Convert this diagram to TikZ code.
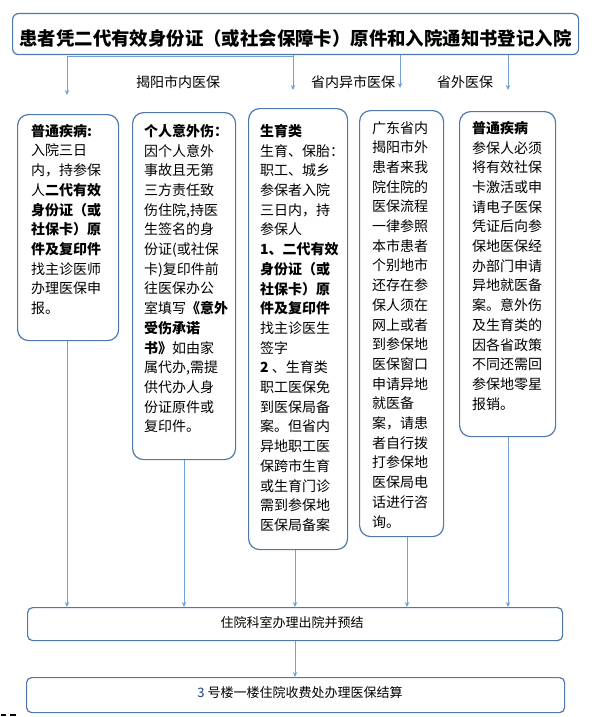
\documentclass[tikz,border=0pt]{standalone}
\usepackage{fontspec}
\setmainfont{Noto Sans CJK SC}
\usetikzlibrary{arrows.meta}
\definecolor{boxblue}{HTML}{4F79AE}
\definecolor{arrowblue}{HTML}{72A0D6}
\definecolor{numblue}{HTML}{1F3A78}
\begin{document}
\begin{tikzpicture}[x=1pt,y=-1pt,
  frame/.style={draw=boxblue, line width=1.2pt, rounded corners=#1, inner sep=0pt, anchor=north west},
  frame/.default=11pt,
  txt/.style={inner sep=0pt, anchor=north west, align=left, font=\fontsize{14}{19.7}\selectfont},
  conn/.style={draw=arrowblue, line width=0.9pt, -{Stealth[length=5pt,width=4.5pt]}},
  lbl/.style={inner sep=0pt, font=\fontsize{14}{16}\selectfont}
]
\fill[white] (0,0) rectangle (594,717);
\useasboundingbox (0,0) rectangle (594,717);

% title
\node[frame=6pt, minimum width=566pt, minimum height=41pt] (title) at (12,13) {};
\node[inner sep=0pt, font=\fontsize{18.4}{20}\selectfont\bfseries] (ttitle) at (295.5,39) {患者凭二代有效身份证（或社会保障卡）原件和入院通知书登记入院};

% labels
\node[lbl] (l1) at (178,82) {揭阳市内医保};
\node[lbl] (l2) at (353,82) {省内异市医保};
\node[lbl] (l3) at (465,82) {省外医保};

% boxes
\node[frame, minimum width=101pt, minimum height=226pt] (b1) at (17,114) {};
\node[frame, minimum width=103pt, minimum height=347pt] (b2) at (132,112) {};
\node[frame, minimum width=99pt, minimum height=441pt] (b3) at (248,108) {};
\node[frame, minimum width=84pt, minimum height=426pt] (b4) at (359,110) {};
\node[frame, minimum width=96pt, minimum height=325pt] (b5) at (459,111) {};

\node[txt] (t1) at (31,124) {\textbf{普通疾病:}\\
入院三日\\
内，持参保\\
人\textbf{二代有效}\\
\textbf{身份证（或}\\
\textbf{社保卡）原}\\
\textbf{件及复印件}\\
找主诊医师\\
办理医保申\\
报。};

\node[txt] (t2) at (144,124) {\textbf{个人意外伤：}\\
因个人意外\\
事故且无第\\
三方责任致\\
伤住院,持医\\
生签名的身\\
份证(或社保\\
卡)复印件前\\
往医保办公\\
室填写\textbf{《意外}\\
\textbf{受伤承诺}\\
\textbf{书》}如由家\\
属代办,需提\\
供代办人身\\
份证原件或\\
复印件。};

\node[txt] (t3) at (260,124) {\textbf{生育类}\\
生育、保胎：\\
职工、城乡\\
参保者入院\\
三日内，持\\
参保人\\
\textbf{1、二代有效}\\
\textbf{身份证（或}\\
\textbf{社保卡）原}\\
\textbf{件及复印件}\\
找主诊医生\\
签字\\
\textbf{2} 、生育类\\
职工医保免\\
到医保局备\\
案。但省内\\
异地职工医\\
保跨市生育\\
或生育门诊\\
需到参保地\\
医保局备案};

\node[txt] (t4) at (372,121) {广东省内\\
揭阳市外\\
患者来我\\
院住院的\\
医保流程\\
一律参照\\
本市患者\\
个别地市\\
还存在参\\
保人须在\\
网上或者\\
到参保地\\
医保窗口\\
申请异地\\
就医备\\
案，请患\\
者自行拨\\
打参保地\\
医保局电\\
话进行咨\\
询。};

\node[txt] (t5) at (472,121) {\textbf{普通疾病}\\
参保人必须\\
将有效社保\\
卡激活或申\\
请电子医保\\
凭证后向参\\
保地医保经\\
办部门申请\\
异地就医备\\
案。意外伤\\
及生育类的\\
因各省政策\\
不同还需回\\
参保地零星\\
报销。};

% bottom boxes
\node[frame=5pt, minimum width=535pt, minimum height=33pt] (bx6) at (27,607) {};
\node[inner sep=0pt, font=\fontsize{13}{15}\selectfont] (t6) at (292,623) {住院科室办理出院并预结};
\node[frame=5pt, minimum width=538pt, minimum height=35pt] (bx7) at (26,677) {};
\node[inner sep=0pt, font=\fontsize{13}{15}\selectfont] (t7) at (300,693) {{\color{numblue}3} 号楼一楼住院收费处办理医保结算};

% top connectors
\coordinate (a1) at (67,95);
\coordinate (a3) at (293,90);
\coordinate (a4) at (400,88);
\coordinate (a5) at (508,90);
\coordinate (k) at (293,56);
\draw[conn] (title.south -| a3) -- (a3);
\draw[conn] (title.south -| k) -- (k) -| (a1);
\draw[conn] (title.south -| a4) -- (a4);
\draw[conn] (title.south -| a5) -- (a5);

% bottom connectors
\coordinate (e1) at (67,0);
\coordinate (e2) at (184,0);
\coordinate (e3) at (295,0);
\coordinate (e4) at (407,0);
\coordinate (e5) at (508,0);
\draw[conn] (b1.south -| e1) -- (bx6.north -| e1);
\draw[conn] (b2.south -| e2) -- (bx6.north -| e2);
\draw[conn] (b3.south -| e3) -- (bx6.north -| e3);
\draw[conn] (b4.south -| e4) -- (bx6.north -| e4);
\draw[conn] (b5.south -| e5) -- (bx6.north -| e5);
\draw[conn] (bx6.south -| e3) -- (bx7.north -| e3);

% stray marks
\draw[line width=1.2pt] (1,715) -- (6,715);
\draw[line width=1.2pt] (10,715) -- (16,715);
\end{tikzpicture}
\end{document}
